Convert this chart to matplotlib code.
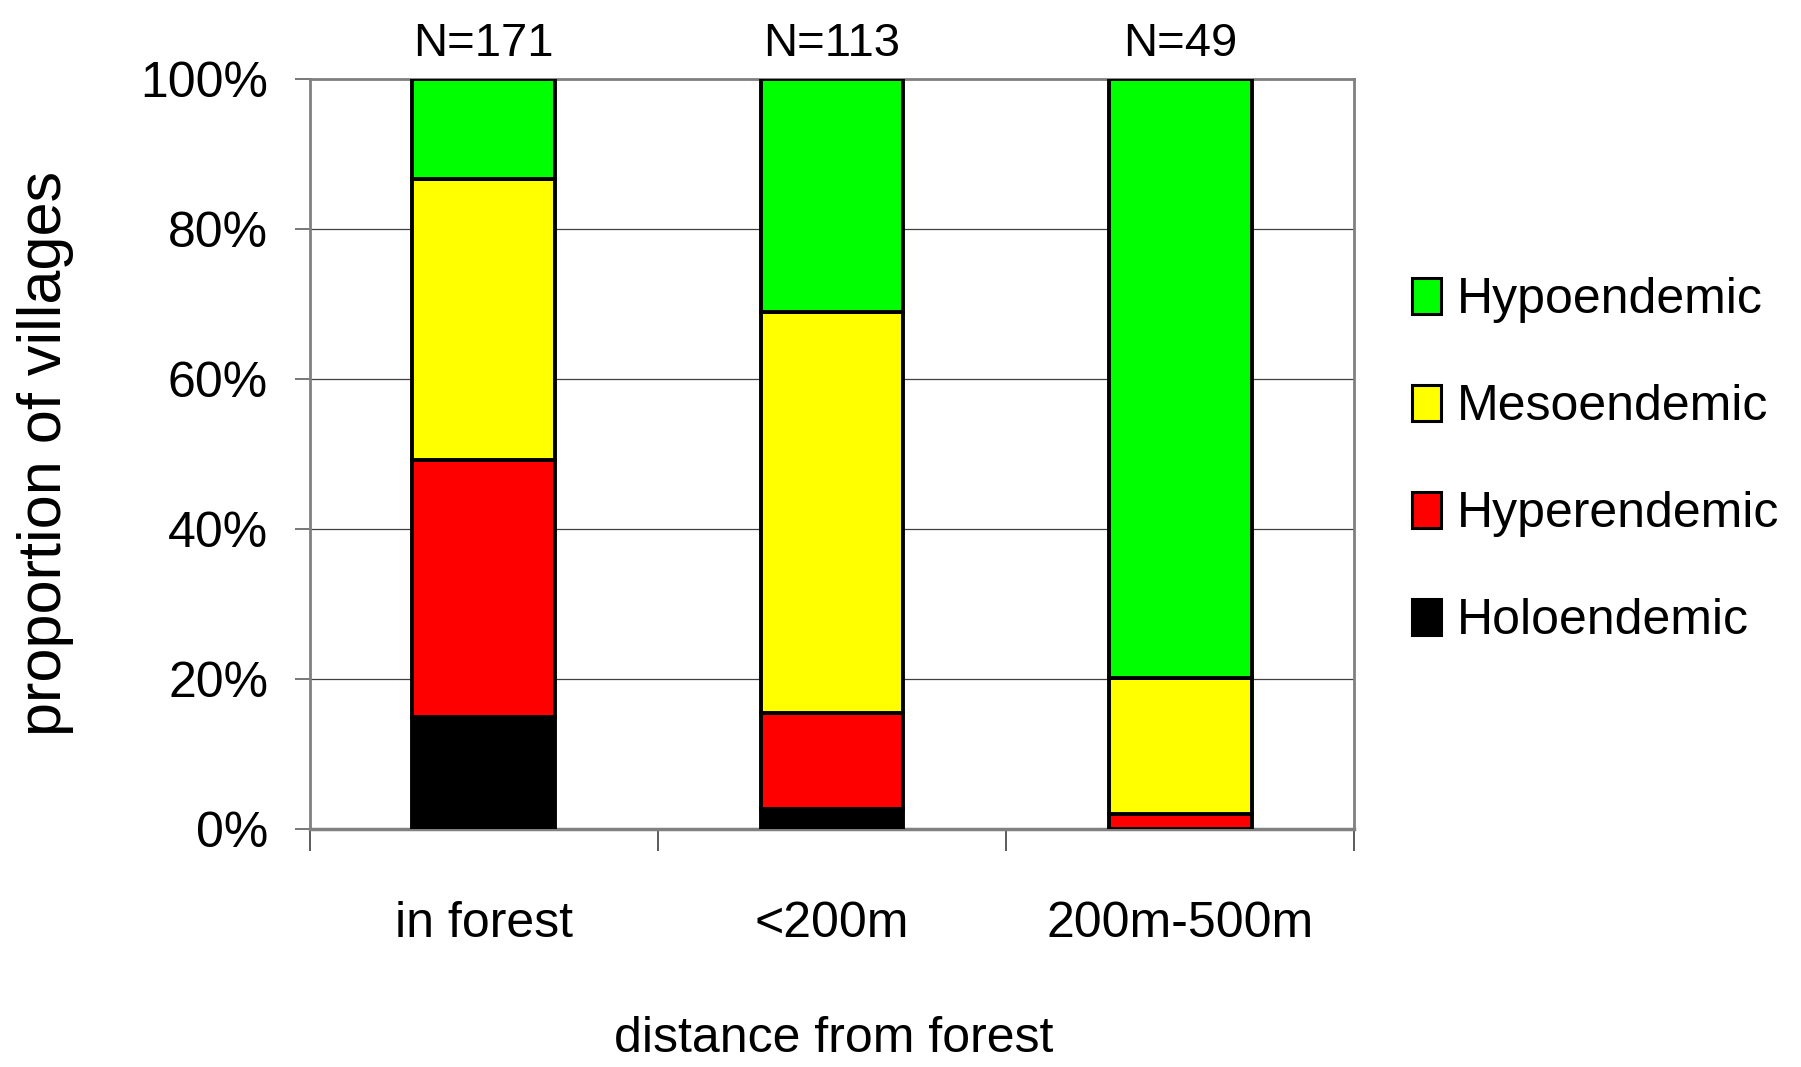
import numpy as np
import matplotlib
matplotlib.use('Agg')
from matplotlib import pyplot as plt
from matplotlib.patches import Patch

plt.rcParams['font.family'] = ['Liberation Sans', 'DejaVu Sans']

# data (percent of villages)
categories = ['in forest', '<200m', '200m-500m']
n_villages = [171, 113, 49]
holoendemic = [14.9, 2.7, 0.0]
hyperendemic = [34.3, 12.8, 2.0]
mesoendemic = [37.4, 53.4, 18.2]
hypoendemic = [13.4, 31.1, 79.8]

series = [('Holoendemic', holoendemic, '#000000'),
          ('Hyperendemic', hyperendemic, '#ff0000'),
          ('Mesoendemic', mesoendemic, '#ffff00'),
          ('Hypoendemic', hypoendemic, '#00ff00')]

fig = plt.figure(figsize=(18.01, 10.67), dpi=100)
ax = fig.add_axes([0.172, 0.223, 0.580, 0.703])

x = np.arange(len(categories))
bottom = np.zeros(len(categories))
for name, vals, col in series:
    vals = np.array(vals)
    ax.bar(x, vals, width=0.41, bottom=bottom, color=col,
           edgecolor='black', linewidth=2.8, zorder=3)
    bottom += vals

ax.set_xlim(-0.5, 2.5)
ax.set_ylim(0, 100)
ax.set_yticks(np.arange(0, 101, 20))
ax.set_yticklabels(['%d%%' % v for v in range(0, 101, 20)], fontsize=36)
ax.yaxis.grid(True, color='#404040', linewidth=0.9, zorder=0)

ax.set_xticks(x)
ax.set_xticklabels(categories, fontsize=36)
ax.set_xticks([-0.5, 0.5, 1.5, 2.5], minor=True)
ax.tick_params(axis='x', which='major', length=0, pad=52)
ax.tick_params(axis='x', which='minor', length=16, width=1.2, color='#404040')
ax.tick_params(axis='y', length=11, width=1.2, color='#606060', pad=19)

for s in ['top', 'right', 'left']:
    ax.spines[s].set_color('#808080')
    ax.spines[s].set_linewidth(2)
ax.spines['bottom'].set_color('#808080')
ax.spines['bottom'].set_linewidth(2.5)

for i, n in enumerate(n_villages):
    ax.annotate('N=%d' % n, xy=(x[i], 100), xytext=(0, 9), textcoords='offset points',
                ha='center', va='bottom', fontsize=34)

fig.text(0.0255, 0.575, 'proportion of villages', rotation=90,
         ha='center', va='center', fontsize=44)
fig.text(0.463, 0.026, 'distance from forest', ha='center', va='center', fontsize=36)

handles = [Patch(facecolor=col, edgecolor='black', linewidth=2.2, label=name)
           for name, vals, col in series[::-1]]
fig.legend(handles=handles, loc='center left', bbox_to_anchor=(0.784, 0.568),
           frameon=False, fontsize=36, handlelength=0.58, handleheight=0.75,
           handletextpad=0.32, labelspacing=1.22, borderaxespad=0, borderpad=0)

fig.savefig('out.png', dpi=100)
